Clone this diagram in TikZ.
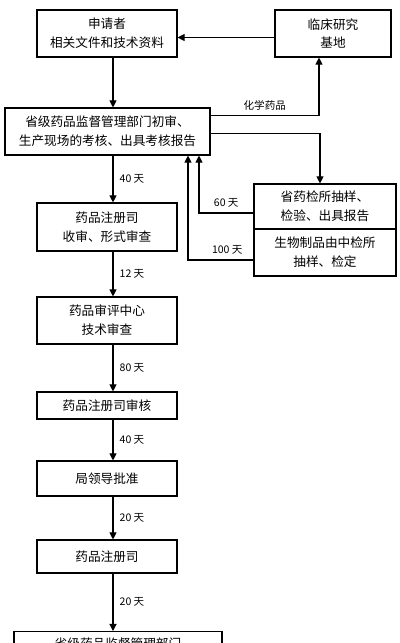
\documentclass[tikz,border=0pt]{standalone}
\usepackage{fontspec}
\newfontfamily\cjk{Noto Sans CJK SC}
\usetikzlibrary{positioning, calc, arrows.meta}

\begin{document}
\begin{tikzpicture}[font=\cjk\fontsize{9}{13.5}\selectfont,
    box/.style={draw, thick, align=center, inner sep=1pt, minimum width=3.5cm, minimum height=1.175cm},
    arr/.style={-{Triangle[length=5pt, width=5pt]}, thick},
    days/.style={font=\cjk\fontsize{7.5}{9}\selectfont, right=1pt}]
        \clip (0,0) rectangle (10,-16.075);
        \useasboundingbox (0,0) rectangle (10,-16.075);
        % main column
        \coordinate (col) at (2.825,0);
        \node[box] (apply) at (2.675,-0.8375) {申请者\\相关文件和技术资料};
        \node[box, minimum width=2.9cm] (clinic) at (8.325,-0.8375) {临床研究\\基地};
        \node[box, minimum width=5.125cm] (prov) at (2.6875,-3.2875) {省级药品监督管理部门初审、\\生产现场的考核、出具考核报告};
        \node[box, minimum width=3.55cm, minimum height=1.125cm] (test) at (8.125,-5.1625) {省药检所抽样、\\检验、出具报告};
        \node[box, minimum width=3.55cm] (bio) at (8.125,-6.3125) {生物制品由中检所\\抽样、检定};
        \node[box, minimum height=1.2cm] (accept) at (2.675,-5.675) {药品注册司\\收审、形式审查};
        \node[box] (review) at (2.675,-8.0125) {药品审评中心\\技术审查};
        \node[box, minimum height=0.675cm] (check) at (2.675,-10.1375) {药品注册司审核};
        \node[box, minimum height=0.875cm] (approve) at (2.675,-11.9625) {局领导批准};
        \node[box, minimum height=0.825cm] (office) at (2.675,-13.9125) {药品注册司};
        \node[box, minimum width=5.2cm, minimum height=0.6cm, anchor=north] (final) at (2.95,-15.775) {省级药品监督管理部门};
        % connectors
        \draw[arr] ($(clinic.west)+(0,-0.1)$) -- ($(apply.east)+(0,-0.1)$);
        \draw[arr] (apply.south -| col) -- (prov.north -| col);
        \draw[arr] ($(prov.north east)+(0,-0.2)$) -| node[above, font=\cjk\fontsize{7.5}{9}\selectfont, pos=0.25] {化学药品} (clinic.south -| 7.975,0);
        \draw[arr] ($(prov.north east)+(0,-0.65)$) -| (test.north -| 8.0,0);
        \draw[arr] ($(test.west)+(0,-0.1625)$) -| node[above, font=\cjk\fontsize{7.5}{9}\selectfont, pos=0.25] {60 天} (prov.south -| 4.975,0);
        \draw[arr] ($(bio.west)+(0,-0.1875)$) -| node[above, font=\cjk\fontsize{7.5}{9}\selectfont, pos=0.2] {100 天} (prov.south -| 4.7,0);
        \draw[arr] (prov.south -| col) -- node[days] {40 天} (accept.north -| col);
        \draw[arr] (accept.south -| col) -- node[days] {12 天} (review.north -| col);
        \draw[arr] (review.south -| col) -- node[days] {80 天} (check.north -| col);
        \draw[arr] (check.south -| col) -- node[days] {40 天} (approve.north -| col);
        \draw[arr] (approve.south -| col) -- node[days] {20 天} (office.north -| col);
        \draw[arr] (office.south -| col) -- node[days] {20 天} (final.north -| col);
    \end{tikzpicture}
\end{document}
